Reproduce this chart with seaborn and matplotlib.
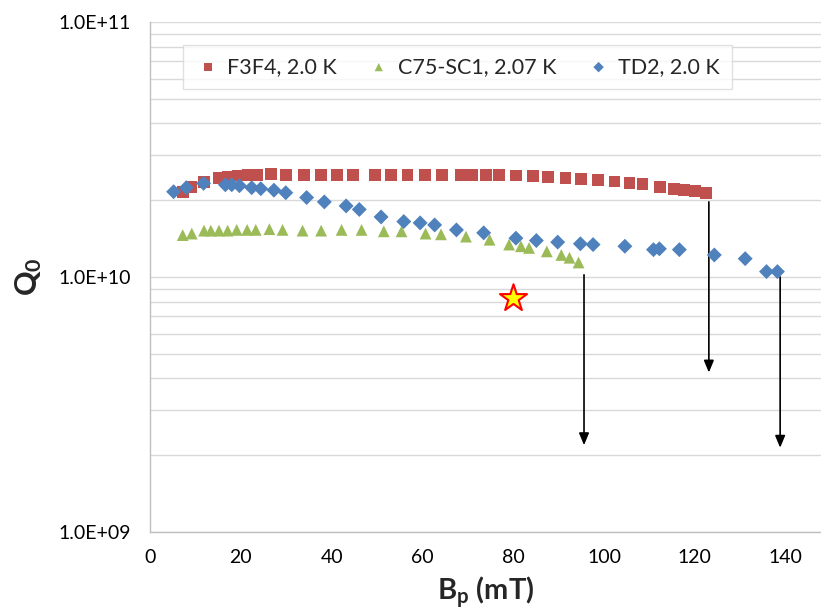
import numpy as np
import pandas as pd
import matplotlib
matplotlib.use("Agg")
import matplotlib.pyplot as plt
import matplotlib.ticker as mticker
import seaborn as sns

# ---------------- data ----------------
f3f4_bp = [7.2, 9.0, 11.9, 15.1, 17.1, 19.3, 21.5, 23.5, 26.6, 29.9, 34.0, 37.6, 41.2,
           44.8, 49.6, 53.1, 56.7, 60.6, 64.4, 68.5, 71.0, 74.0, 76.9, 80.7, 84.4, 87.6,
           91.5, 94.9, 98.7, 102.3, 105.6, 108.5, 112.3, 115.5, 117.7, 120.1, 122.4]
f3f4_q0 = [2.16, 2.25, 2.36, 2.44, 2.47, 2.50, 2.51, 2.51, 2.53, 2.52, 2.52, 2.51, 2.51,
           2.51, 2.52, 2.52, 2.52, 2.52, 2.51, 2.51, 2.51, 2.51, 2.51, 2.50, 2.49, 2.47,
           2.45, 2.43, 2.40, 2.37, 2.34, 2.31, 2.26, 2.22, 2.20, 2.17, 2.14]

c75_bp = [7.2, 9.2, 11.9, 13.4, 15.2, 17.1, 19.1, 21.4, 23.3, 26.3, 29.2, 33.6, 37.7, 42.2,
          46.6, 51.5, 55.4, 60.7, 64.1, 69.6, 74.8, 79.1, 81.7, 83.5, 87.4, 90.6, 92.4, 94.4]
c75_q0 = [1.46, 1.48, 1.52, 1.52, 1.52, 1.52, 1.53, 1.53, 1.53, 1.54, 1.53, 1.52, 1.52, 1.53,
          1.53, 1.51, 1.51, 1.48, 1.47, 1.44, 1.40, 1.34, 1.32, 1.30, 1.26, 1.22, 1.19, 1.14]

td2_bp = [5.2, 8.0, 11.8, 16.6, 18.0, 19.7, 22.4, 24.4, 27.3, 29.9, 34.5, 38.4, 43.2, 46.1,
          50.9, 55.9, 59.5, 62.7, 67.5, 73.5, 80.6, 85.1, 89.8, 94.8, 97.6, 104.6, 110.9,
          112.2, 116.6, 124.3, 131.1, 135.8, 138.2]
td2_q0 = [2.16, 2.24, 2.33, 2.30, 2.30, 2.28, 2.24, 2.22, 2.19, 2.14, 2.05, 1.97, 1.90, 1.84,
          1.72, 1.65, 1.63, 1.60, 1.53, 1.49, 1.42, 1.39, 1.37, 1.35, 1.34, 1.32, 1.28,
          1.29, 1.28, 1.22, 1.18, 1.05, 1.05]

series_names = ["F3F4, 2.0 K", "C75-SC1, 2.07 K", "TD2, 2.0 K"]
series_colors = ["#C0504D", "#9BBB59", "#4F81BD"]

star_bp = [80.0]
star_q0 = [8.3e9]

arrow_bp = [95.6, 123.1, 138.8]
arrow_start = [1.02e10, 1.97e10, 1.0e10]
arrow_end = [2.19e9, 4.22e9, 2.14e9]

x_ticks = [0, 20, 40, 60, 80, 100, 120, 140]
y_ticks = [1e9, 1e10, 1e11]
y_tick_labels = ["1.0E+09", "1.0E+10", "1.0E+11"]

# ---------------- build table ----------------
df = pd.concat([
    pd.DataFrame({"Bp": f3f4_bp, "Q0": np.array(f3f4_q0) * 1e10, "series": series_names[0]}),
    pd.DataFrame({"Bp": c75_bp, "Q0": np.array(c75_q0) * 1e10, "series": series_names[1]}),
    pd.DataFrame({"Bp": td2_bp, "Q0": np.array(td2_q0) * 1e10, "series": series_names[2]}),
], ignore_index=True)

sns.set_theme(style="white")
plt.rcParams["font.family"] = ["Lato", "DejaVu Sans"]
plt.rcParams["mathtext.fontset"] = "custom"
plt.rcParams["mathtext.rm"] = "Lato"
plt.rcParams["mathtext.bf"] = "Lato:bold"
plt.rcParams["mathtext.it"] = "Lato:italic"

fig = plt.figure(figsize=(8.21, 6.16), dpi=100)
ax = fig.add_axes([150 / 821, 84 / 616, 671 / 821, 510 / 616])

markers = ["s", "^", "D"]
sizes = [72, 72, 58]
for name, col, mk, sz in zip(series_names, series_colors, markers, sizes):
    sub = df[df["series"] == name]
    sns.scatterplot(data=sub, x="Bp", y="Q0", ax=ax, color=col, marker=mk, s=sz,
                    edgecolor="none", linewidth=0, label=name, zorder=3)

ax.scatter(star_bp, star_q0, marker="*", s=420, facecolor="#FFFF00",
           edgecolor="#FF0000", linewidth=1.5, zorder=4)

for xb, ys, ye in zip(arrow_bp, arrow_start, arrow_end):
    ax.annotate("", xy=(xb, ye), xytext=(xb, ys),
                arrowprops=dict(arrowstyle="-|>,head_length=0.6,head_width=0.25",
                                color="black", lw=1.2, shrinkA=0, shrinkB=0),
                zorder=2)

ax.set_yscale("log")
ax.set_ylim(1e9, 1e11)
ax.set_xlim(0, 147.8)

ax.set_yticks(y_ticks)
ax.set_yticklabels(y_tick_labels)
ax.yaxis.set_minor_locator(mticker.LogLocator(base=10, subs=np.arange(2, 10)))
ax.yaxis.set_minor_formatter(mticker.NullFormatter())
ax.set_xticks(x_ticks)
ax.xaxis.set_minor_locator(mticker.MultipleLocator(4))

ax.grid(True, which="both", axis="y", color="#D9D9D9", linewidth=1.0)
ax.grid(False, axis="x")
ax.set_axisbelow(True)

for s in ["top", "right"]:
    ax.spines[s].set_visible(False)
for s in ["left", "bottom"]:
    ax.spines[s].set_color("#BFBFBF")
    ax.spines[s].set_linewidth(1.0)

ax.tick_params(axis="y", which="major", direction="out", length=6, width=1,
               color="#BFBFBF", labelsize=14, pad=8, labelcolor="black")
ax.tick_params(axis="y", which="minor", length=0)
ax.tick_params(axis="x", which="major", direction="out", length=6, width=1,
               color="#BFBFBF", labelsize=14, pad=6, labelcolor="black")
ax.tick_params(axis="x", which="minor", direction="out", length=4, width=1,
               color="#BFBFBF")

ax.set_xlabel(r"$\mathbf{B_p}$ (mT)", fontsize=21, fontweight="bold", labelpad=6)
ax.set_ylabel(r"$\mathbf{Q_0}$", fontsize=22, fontweight="bold", labelpad=10)

leg = ax.legend(loc="upper left", bbox_to_anchor=(0.049, 0.955), ncol=3,
                frameon=True, fancybox=False, fontsize=15.5, markerscale=0.7,
                handletextpad=0.3, columnspacing=1.35, borderpad=0.55,
                handlelength=1.2, borderaxespad=0)
leg.get_frame().set_edgecolor("#D9D9D9")
leg.get_frame().set_linewidth(1.0)

fig.savefig("out.png", dpi=100)
